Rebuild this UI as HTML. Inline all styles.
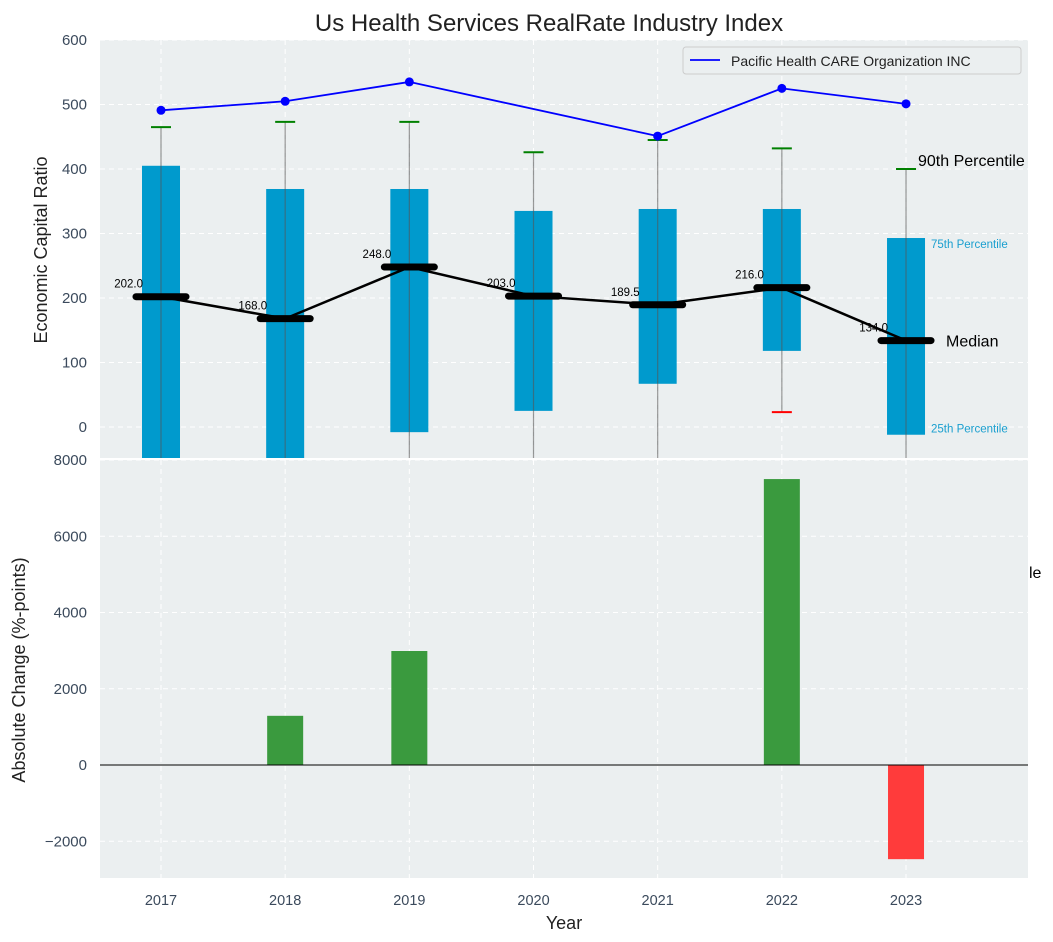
<!DOCTYPE html>
<html><head><meta charset="utf-8">
<style>
body{margin:0;background:#fff;}
svg{display:block;font-family:"Liberation Sans","DejaVu Sans",sans-serif;}
</style></head>
<body>
<svg id="chart" width="1053" height="942" xmlns="http://www.w3.org/2000/svg">
<text x="549" y="31" font-size="24" text-anchor="middle" fill="#222">Us Health Services RealRate Industry Index</text>
<g id="topPanel"></g>
<g id="botPanel"></g>
<text x="564" y="929" font-size="18" text-anchor="middle" fill="#222">Year</text>
<text transform="translate(47,250) rotate(-90)" font-size="18" text-anchor="middle" fill="#222">Economic Capital Ratio</text>
<text transform="translate(25,670) rotate(-90)" font-size="18" text-anchor="middle" fill="#222">Absolute Change (%-points)</text>
</svg>
<script>
const years=[2017,2018,2019,2020,2021,2022,2023];
const q1=[-100,-100,-8,25,67,118,-12];
const q3=[405,369,369,335,338,338,293];
const p90=[465,473,473,426,445,432,400];
const p10=[-100,-100,-100,-100,-100,23,-100];
const medians=[202,168,248,203,189.5,216,134];
const peerYears=[2017,2018,2019,2021,2022,2023];
const peerValues=[491,505,535,451,525,501];
const changes=[0,1290,2990,0,0,7500,-2470];
const topTicks=[0,100,200,300,400,500,600];
const botTicks=[-2000,0,2000,4000,6000,8000];

const NS="http://www.w3.org/2000/svg";
function el(p,t,a){const e=document.createElementNS(NS,t);for(const k in a)e.setAttribute(k,a[k]);p.appendChild(e);return e;}
const L=100,R=1028;
const xs=yr=>161+(yr-2017)*124.17;
const yt=v=>427-v*0.645;
const yb=v=>765-v*0.038125;
const topG=document.getElementById('topPanel'),botG=document.getElementById('botPanel');
const svgEl=document.getElementById('chart');
let e;

e=el(topG,'rect',{x:L,y:40,width:R-L,height:418,fill:'#ebeff0'});


e=el(botG,'rect',{x:L,y:460,width:R-L,height:418,fill:'#ebeff0'});


const defs=el(svgEl,'defs',{});
const topClip=el(defs,'clipPath',{id:'tc'});el(topClip,'rect',{x:L,y:40,width:R-L,height:418});
const botClip=el(defs,'clipPath',{id:'bc'});el(botClip,'rect',{x:L,y:460,width:R-L,height:418});
const tg=el(topG,'g',{'clip-path':'url(#tc)'});
const bg=el(botG,'g',{'clip-path':'url(#bc)'});

topTicks.forEach(v=>{
  el(tg,'line',{x1:L,x2:R,y1:yt(v),y2:yt(v),stroke:'#fff','stroke-dasharray':'5,4','stroke-width':1});
  e=el(topG,'text',{x:L-13,y:yt(v)+5,'font-size':15,'text-anchor':'end',fill:'#3b4a5c'});e.textContent=v;
  
  
});
botTicks.forEach(v=>{
  el(bg,'line',{x1:L,x2:R,y1:yb(v),y2:yb(v),stroke:'#fff','stroke-dasharray':'5,4','stroke-width':1});
  e=el(botG,'text',{x:L-13,y:yb(v)+5,'font-size':15,'text-anchor':'end',fill:'#3b4a5c'});e.textContent=(v<0?'\u2212'+(-v):v);
  
  
});
years.forEach(yr=>{
  el(tg,'line',{x1:xs(yr),x2:xs(yr),y1:40,y2:458,stroke:'#fff','stroke-dasharray':'5,4'});
  el(bg,'line',{x1:xs(yr),x2:xs(yr),y1:460,y2:878,stroke:'#fff','stroke-dasharray':'5,4'});
  e=el(botG,'text',{x:xs(yr),y:905,'font-size':14.5,'text-anchor':'middle',fill:'#3b4a5c'});e.textContent=yr;
  
  
});

years.forEach((yr,i)=>{
  const cx=xs(yr);
  e=el(tg,'rect',{x:cx-19,y:yt(q3[i]),width:38,height:yt(q1[i])-yt(q3[i]),fill:'#009acd'});
  
  
  e=el(tg,'line',{x1:cx,x2:cx,y1:yt(p90[i]),y2:yt(p10[i]),stroke:'#555','stroke-opacity':0.6,'stroke-width':1.2});
  
  
  e=el(tg,'line',{x1:cx-10,x2:cx+10,y1:yt(p90[i]),y2:yt(p90[i]),stroke:'green','stroke-width':2});
  
  
  e=el(tg,'line',{x1:cx-10,x2:cx+10,y1:yt(p10[i]),y2:yt(p10[i]),stroke:'red','stroke-width':2});
  
  
});
e=el(tg,'polyline',{points:years.map((yr,i)=>xs(yr)+','+yt(medians[i])).join(' '),fill:'none',stroke:'#000','stroke-width':2.5});


years.forEach((yr,i)=>{
  const cx=xs(yr),cy=yt(medians[i]);
  e=el(tg,'line',{x1:cx-25,x2:cx+25,y1:cy,y2:cy,stroke:'#000','stroke-width':7,'stroke-linecap':'round'});
  
  
  e=el(topG,'text',{x:cx-18,y:cy-9,'font-size':11.5,'text-anchor':'end',fill:'#000'});e.textContent=medians[i].toFixed(1);
  
  
});
e=el(tg,'polyline',{points:peerYears.map((yr,i)=>xs(yr)+','+yt(peerValues[i])).join(' '),fill:'none',stroke:'#0000ff','stroke-width':1.8});


peerYears.forEach((yr,i)=>{
  e=el(tg,'circle',{cx:xs(yr),cy:yt(peerValues[i]),r:4.5,fill:'#0000ff'});
  
  
});
const ann=[['90th Percentile',918,yt(p90[6])-3,16,'#000'],['75th Percentile',931,yt(q3[6])+10,11.5,'#1a9fcf'],['Median',946,yt(medians[6])+6,16,'#000'],['25th Percentile',931,yt(q1[6])-2,11.5,'#1a9fcf']];
ann.forEach(a=>{
  e=el(svgEl,'text',{x:a[1],y:a[2],'font-size':a[3],fill:a[4]});e.textContent=a[0];
  
  
});
e=el(svgEl,'text',{x:1029,y:578,'font-size':16,fill:'#000'});e.textContent='le';



e=el(topG,'rect',{x:683,y:47,width:338,height:27,fill:'#ebeff0',stroke:'#ccc',rx:3});


el(topG,'line',{x1:690,x2:720,y1:60,y2:60,stroke:'#0000ff','stroke-width':1.8});
e=el(topG,'text',{x:731,y:66,'font-size':14,fill:'#222'});e.textContent='Pacific Health CARE Organization INC';



years.forEach((yr,i)=>{
  const v=changes[i];if(v===0)return;
  e=el(bg,'rect',{x:xs(yr)-18,y:Math.min(yb(v),yb(0)),width:36,height:Math.abs(yb(v)-yb(0)),fill:v>0?'#3a9a3e':'#ff3b3b'});
  
  
});
e=el(bg,'line',{x1:L,x2:R,y1:yb(0),y2:yb(0),stroke:'#000','stroke-width':1});


</script>
</body></html>
